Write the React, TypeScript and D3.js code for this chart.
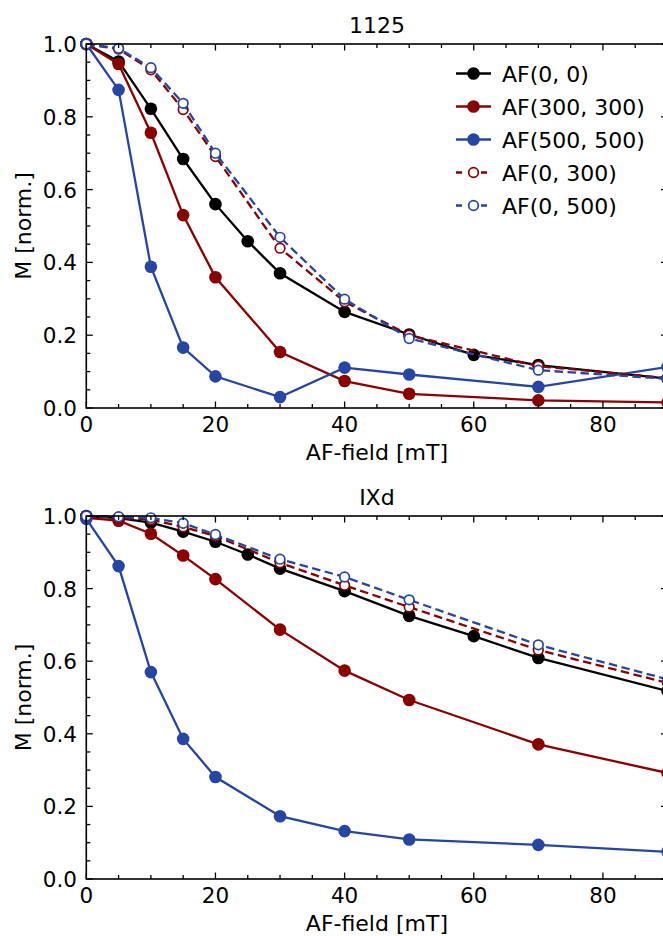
import React from "react";
import * as d3 from "d3";

// ---------- data ----------
const fieldsBlack = [0, 5, 10, 15, 20, 25, 30, 40, 50, 60, 70, 90];
const fieldsOther = [0, 5, 10, 15, 20, 30, 40, 50, 70, 90];

const seriesNames = ["AF(0, 0)", "AF(300, 300)", "AF(500, 500)", "AF(0, 300)", "AF(0, 500)"];
const seriesColors = ["#000000", "#8b0000", "#2746a3", "#8b0000", "#2746a3"];
const seriesDashed = [false, false, false, true, true];

// panel 1125
const p1125_af00 = [1.0, 0.952, 0.822, 0.684, 0.56, 0.458, 0.37, 0.264, 0.202, 0.146, 0.118, 0.081];
const p1125_af300 = [1.0, 0.945, 0.756, 0.53, 0.359, 0.154, 0.074, 0.039, 0.021, 0.015];
const p1125_af500 = [1.0, 0.874, 0.388, 0.166, 0.087, 0.03, 0.111, 0.092, 0.058, 0.113];
const p1125_af0_300 = [1.0, 0.986, 0.929, 0.82, 0.691, 0.439, 0.292, 0.2, 0.115, 0.082];
const p1125_af0_500 = [1.0, 0.988, 0.935, 0.837, 0.7, 0.469, 0.299, 0.191, 0.104, 0.08];

// panel IXd
const pIXd_af00 = [1.0, 0.994, 0.982, 0.957, 0.929, 0.894, 0.855, 0.793, 0.725, 0.669, 0.609, 0.518];
const pIXd_af300 = [0.995, 0.987, 0.951, 0.891, 0.826, 0.687, 0.574, 0.493, 0.371, 0.292];
const pIXd_af500 = [0.992, 0.862, 0.57, 0.386, 0.281, 0.173, 0.132, 0.109, 0.094, 0.075];
const pIXd_af0_300 = [1.0, 0.995, 0.99, 0.97, 0.945, 0.871, 0.809, 0.749, 0.631, 0.54];
const pIXd_af0_500 = [1.0, 0.998, 0.995, 0.98, 0.949, 0.881, 0.832, 0.769, 0.645, 0.55];

const xMajorTicks = [0, 20, 40, 60, 80];
const yMajorTicks = [0.0, 0.2, 0.4, 0.6, 0.8, 1.0];

const panels = [
  { title: "1125", data: [p1125_af00, p1125_af300, p1125_af500, p1125_af0_300, p1125_af0_500], top: 44, bottom: 408, legend: true },
  { title: "IXd", data: [pIXd_af00, pIXd_af300, pIXd_af500, pIXd_af0_300, pIXd_af0_500], top: 516, bottom: 879, legend: false },
];

const FONT = "DejaVu Sans, sans-serif";
const LEFT = 86.3;
const RIGHT = 667.5;
const TICK_FS = 21.5;
const LABEL_FS = 22;

function Panel({ p }: { p: any }) {
  const x = d3.scaleLinear().domain([0, 90]).range([LEFT, RIGHT]);
  const y = d3.scaleLinear().domain([0, 1]).range([p.bottom, p.top]);
  const line = d3
    .line<[number, number]>()
    .x((d) => x(d[0]))
    .y((d) => y(d[1]));
  const xMinor = d3.range(0, 91, 5);
  const yMinor = d3.range(0, 1.0001, 0.05);
  const series = p.data.map((vals: number[], i: number) => {
    const xs = i === 0 ? fieldsBlack : fieldsOther;
    return xs.map((f, j) => [f, vals[j]] as [number, number]);
  });
  const midX = (LEFT + RIGHT) / 2;
  const midY = (p.top + p.bottom) / 2;
  return (
    <g>
      {series.map((pts: [number, number][], i: number) => (
        <g key={i}>
          <path
            d={line(pts) || ""}
            fill="none"
            stroke={seriesColors[i]}
            strokeWidth={2.3}
            strokeDasharray={seriesDashed[i] ? "8.5,4.5" : undefined}
          />
          {pts.map((d, j) =>
            seriesDashed[i] ? (
              <circle key={j} cx={x(d[0])} cy={y(d[1])} r={4.8} fill="#fff" stroke={seriesColors[i]} strokeWidth={1.7} />
            ) : (
              <circle key={j} cx={x(d[0])} cy={y(d[1])} r={6.3} fill={seriesColors[i]} />
            )
          )}
        </g>
      ))}
      <rect x={LEFT} y={p.top} width={RIGHT - LEFT} height={p.bottom - p.top} fill="none" stroke="#000" strokeWidth={1.6} />
      {xMinor.map((t) => {
        const len = t % 20 === 0 ? 6.5 : 4;
        return (
          <g key={"xt" + t}>
            <line x1={x(t)} x2={x(t)} y1={p.bottom} y2={p.bottom - len} stroke="#000" strokeWidth={1.3} />
            <line x1={x(t)} x2={x(t)} y1={p.top} y2={p.top + len} stroke="#000" strokeWidth={1.3} />
          </g>
        );
      })}
      {yMinor.map((t, k) => {
        const len = k % 4 === 0 ? 6.5 : 4;
        return (
          <g key={"yt" + k}>
            <line x1={LEFT} x2={LEFT + len} y1={y(t)} y2={y(t)} stroke="#000" strokeWidth={1.3} />
            <line x1={RIGHT} x2={RIGHT - len} y1={y(t)} y2={y(t)} stroke="#000" strokeWidth={1.3} />
          </g>
        );
      })}
      {xMajorTicks.map((t) => (
        <text key={"xl" + t} x={x(t)} y={p.bottom + 23.5} textAnchor="middle" fontFamily={FONT} fontSize={TICK_FS}>
          {t}
        </text>
      ))}
      {yMajorTicks.map((t) => (
        <text key={"yl" + t} x={77} y={y(t) + 8} textAnchor="end" fontFamily={FONT} fontSize={TICK_FS}>
          {d3.format(".1f")(t)}
        </text>
      ))}
      <text x={midX} y={p.top - 11} textAnchor="middle" fontFamily={FONT} fontSize={LABEL_FS}>
        {p.title}
      </text>
      <text x={midX} y={p.bottom + 52} textAnchor="middle" fontFamily={FONT} fontSize={LABEL_FS}>
        AF-field [mT]
      </text>
      <text
        transform={`translate(${31},${midY}) rotate(-90)`}
        textAnchor="middle"
        fontFamily={FONT}
        fontSize={LABEL_FS}
      >
        M [norm.]
      </text>
      {p.legend &&
        seriesNames.map((name, i) => {
          const ly = 73.5 + i * 33;
          return (
            <g key={"lg" + i}>
              <line
                x1={456}
                x2={491}
                y1={ly}
                y2={ly}
                stroke={seriesColors[i]}
                strokeWidth={2.3}
                strokeDasharray={seriesDashed[i] ? "6,6.5" : undefined}
              />
              {seriesDashed[i] ? (
                <circle cx={473.5} cy={ly} r={4.8} fill="#fff" stroke={seriesColors[i]} strokeWidth={1.7} />
              ) : (
                <circle cx={473.5} cy={ly} r={6.3} fill={seriesColors[i]} />
              )}
              <text x={502} y={ly + 8} fontFamily={FONT} fontSize={LABEL_FS}>
                {name}
              </text>
            </g>
          );
        })}
    </g>
  );
}

export default function App() {
  return (
    <svg width={663} height={936} style={{ position: "absolute", left: 0, top: 0, background: "#fff" }}>
      <rect width={663} height={936} fill="#fff" />
      {panels.map((p, i) => (
        <Panel key={i} p={p} />
      ))}
    </svg>
  );
}
